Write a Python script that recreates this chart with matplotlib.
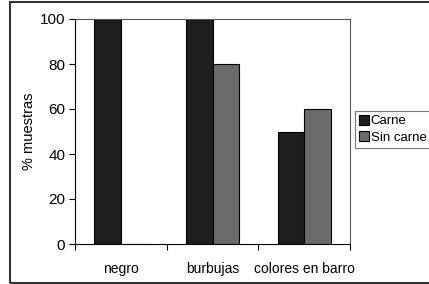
import numpy as np
import matplotlib
matplotlib.use("Agg")
import matplotlib.pyplot as plt
from matplotlib.patches import Rectangle

categories = ["negro", "burbujas", "colores en barro"]
carne = [100, 100, 50]
sin_carne = [0, 80, 60]
series_names = ["Carne", "Sin carne"]
yticks = [0, 20, 40, 60, 80, 100]

plt.rcParams["font.family"] = ["Liberation Sans", "DejaVu Sans"]

W, H = 429, 284
fig = plt.figure(figsize=(W / 100, H / 100), dpi=100)
fig.patch.set_facecolor("white")

# outer frame (runs off the right edge like the source)
fig.patches.append(Rectangle((10 / W, 1 - 283 / H), 1.2, 281 / H, transform=fig.transFigure,
                             fill=False, edgecolor="#333333", lw=1.5))

ax = fig.add_axes([75 / W, 1 - 244 / H, 275 / W, 225 / H])

x = np.arange(len(categories))
bw = 0.29
b1 = ax.bar(x - bw / 2, carne, bw, color="#1e1e1e", edgecolor="black", lw=0.8, label=series_names[0])
b2 = ax.bar(x + bw / 2, sin_carne, bw, color="#6b6b6b", edgecolor="black", lw=0.8, label=series_names[1])

ax.set_xlim(-0.5, len(categories) - 0.5)
ax.set_ylim(0, 100)
ax.set_yticks(yticks)
ax.set_xticks(np.arange(len(categories) + 1) - 0.5)
ax.set_xticklabels([])
ax.set_xticks(x, minor=True)
ax.set_xticklabels(categories, minor=True)
ax.tick_params(axis="x", which="minor", length=0, pad=13, labelsize=10)
ax.tick_params(axis="x", which="major", length=4, width=0.8, direction="out")
ax.tick_params(axis="y", length=4, width=0.8, direction="out", labelsize=11, pad=3)
ax.set_ylabel("% muestras", fontsize=10.5, labelpad=3)
for s in ax.spines.values():
    s.set_linewidth(0.8)
    s.set_color("black")
ax.spines["top"].set_color("#555555")
ax.spines["right"].set_color("#555555")

leg = fig.legend(handles=[b1, b2], loc="upper left", bbox_to_anchor=(355 / W, 1 - 111 / H),
                 fontsize=9.5, frameon=True, fancybox=False, handlelength=0.75, handleheight=0.75,
                 handletextpad=0.15, borderpad=0.3, labelspacing=0.3, borderaxespad=0)
leg.get_frame().set_edgecolor("#555555")
leg.get_frame().set_linewidth(0.8)

fig.savefig("out.png", dpi=100)
